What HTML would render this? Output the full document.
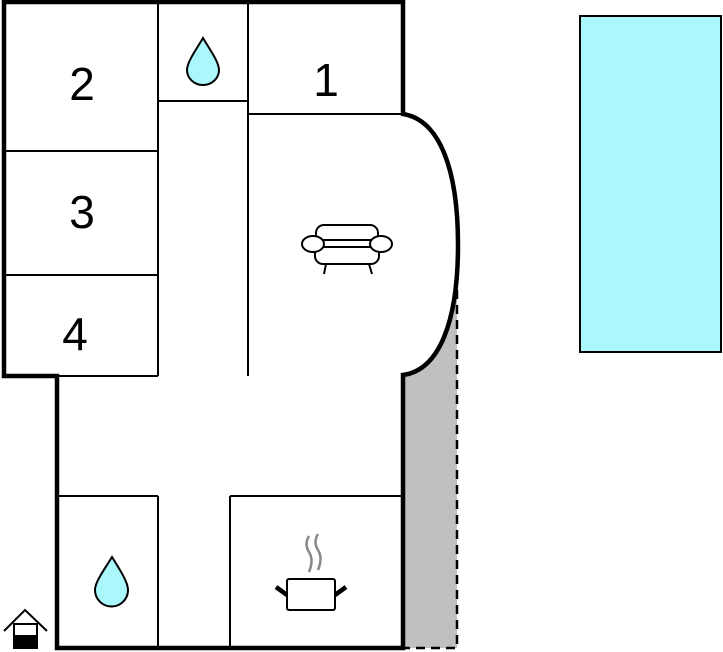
<!DOCTYPE html>
<html><head><style>body{margin:0;background:#fff}svg{display:block}</style></head><body>
<svg width="723" height="652" viewBox="0 0 723 652" xmlns="http://www.w3.org/2000/svg">
<rect x="580" y="16" width="141" height="336" fill="#aaf8fc" stroke="#000" stroke-width="2"/>
<rect x="403" y="290" width="54" height="358" fill="#c0c0c0"/>
<path d="M457 290 L457 648 L405 648" fill="none" stroke="#000" stroke-width="2.5" stroke-dasharray="9,6"/>
<path d="M4 2 L403 2 L403 114 C440 120 458 170 458 245 C458 320 440 370 403 375 L403 648 L57 648 L57 376 L4 376 Z" fill="#fff"/>
<g stroke="#000" stroke-width="2" fill="none">
<line x1="158" y1="2" x2="158" y2="376"/>
<line x1="4" y1="151" x2="158" y2="151"/>
<line x1="4" y1="275" x2="158" y2="275"/>
<line x1="57" y1="376" x2="158" y2="376"/>
<line x1="158" y1="101" x2="248" y2="101"/>
<line x1="248" y1="2" x2="248" y2="376"/>
<line x1="248" y1="114" x2="403" y2="114"/>
<line x1="57" y1="496" x2="158" y2="496"/>
<line x1="158" y1="496" x2="158" y2="648"/>
<line x1="230" y1="496" x2="403" y2="496"/>
<line x1="230" y1="496" x2="230" y2="648"/>
</g>
<path d="M4 2 L403 2 L403 114 C440 120 458 170 458 245 C458 320 440 370 403 375 L403 648 L57 648 L57 376 L4 376 Z" fill="none" stroke="#000" stroke-width="4.5" stroke-linejoin="miter"/>
<g font-family="Liberation Sans, sans-serif" font-size="46" text-anchor="middle" fill="#000">
<text x="82" y="100">2</text>
<text x="326" y="96">1</text>
<text x="82" y="228">3</text>
<text x="75" y="350">4</text>
</g>
<g stroke="#000" stroke-width="2" fill="#aaf8fc">
<path d="M203 38 C196 50 187 62 187 70 A16 15 0 0 0 219 70 C219 62 210 50 203 38 Z"/>
<path d="M112 557 C104 570 95 582 95 590 A16 16 0 0 0 128 590 C128 582 120 570 112 557 Z"/>
</g>
<g stroke="#000" stroke-width="2" fill="#fff">
<rect x="316" y="225" width="62" height="24" rx="8"/>
<rect x="315" y="240" width="64" height="24" rx="8"/>
<line x1="322" y1="247" x2="372" y2="247"/>
<ellipse cx="313" cy="244" rx="11" ry="8"/>
<ellipse cx="381" cy="244" rx="11" ry="8"/>
<line x1="326" y1="264" x2="324" y2="274"/>
<line x1="369" y1="264" x2="372" y2="274"/>
</g>
<g>
<path d="M309 536 q-5 8 0 16 q5 8 0 20 M318 534 q-5 8 0 16 q5 8 0 20" stroke="#888" stroke-width="2.5" fill="none"/>
<rect x="287" y="579" width="48" height="31" rx="2" fill="#fff" stroke="#000" stroke-width="2"/>
<line x1="276" y1="587" x2="287" y2="595" stroke="#000" stroke-width="4.5"/>
<line x1="346" y1="587" x2="335" y2="595" stroke="#000" stroke-width="4.5"/>
</g>
<g stroke="#000" stroke-width="2" fill="none">
<path d="M4 631 L25 610 L47 631"/>
<rect x="14" y="624" width="23" height="24" fill="#fff"/>
<rect x="14" y="636" width="23" height="12" fill="#000"/>
</g>
</svg>
</body></html>
